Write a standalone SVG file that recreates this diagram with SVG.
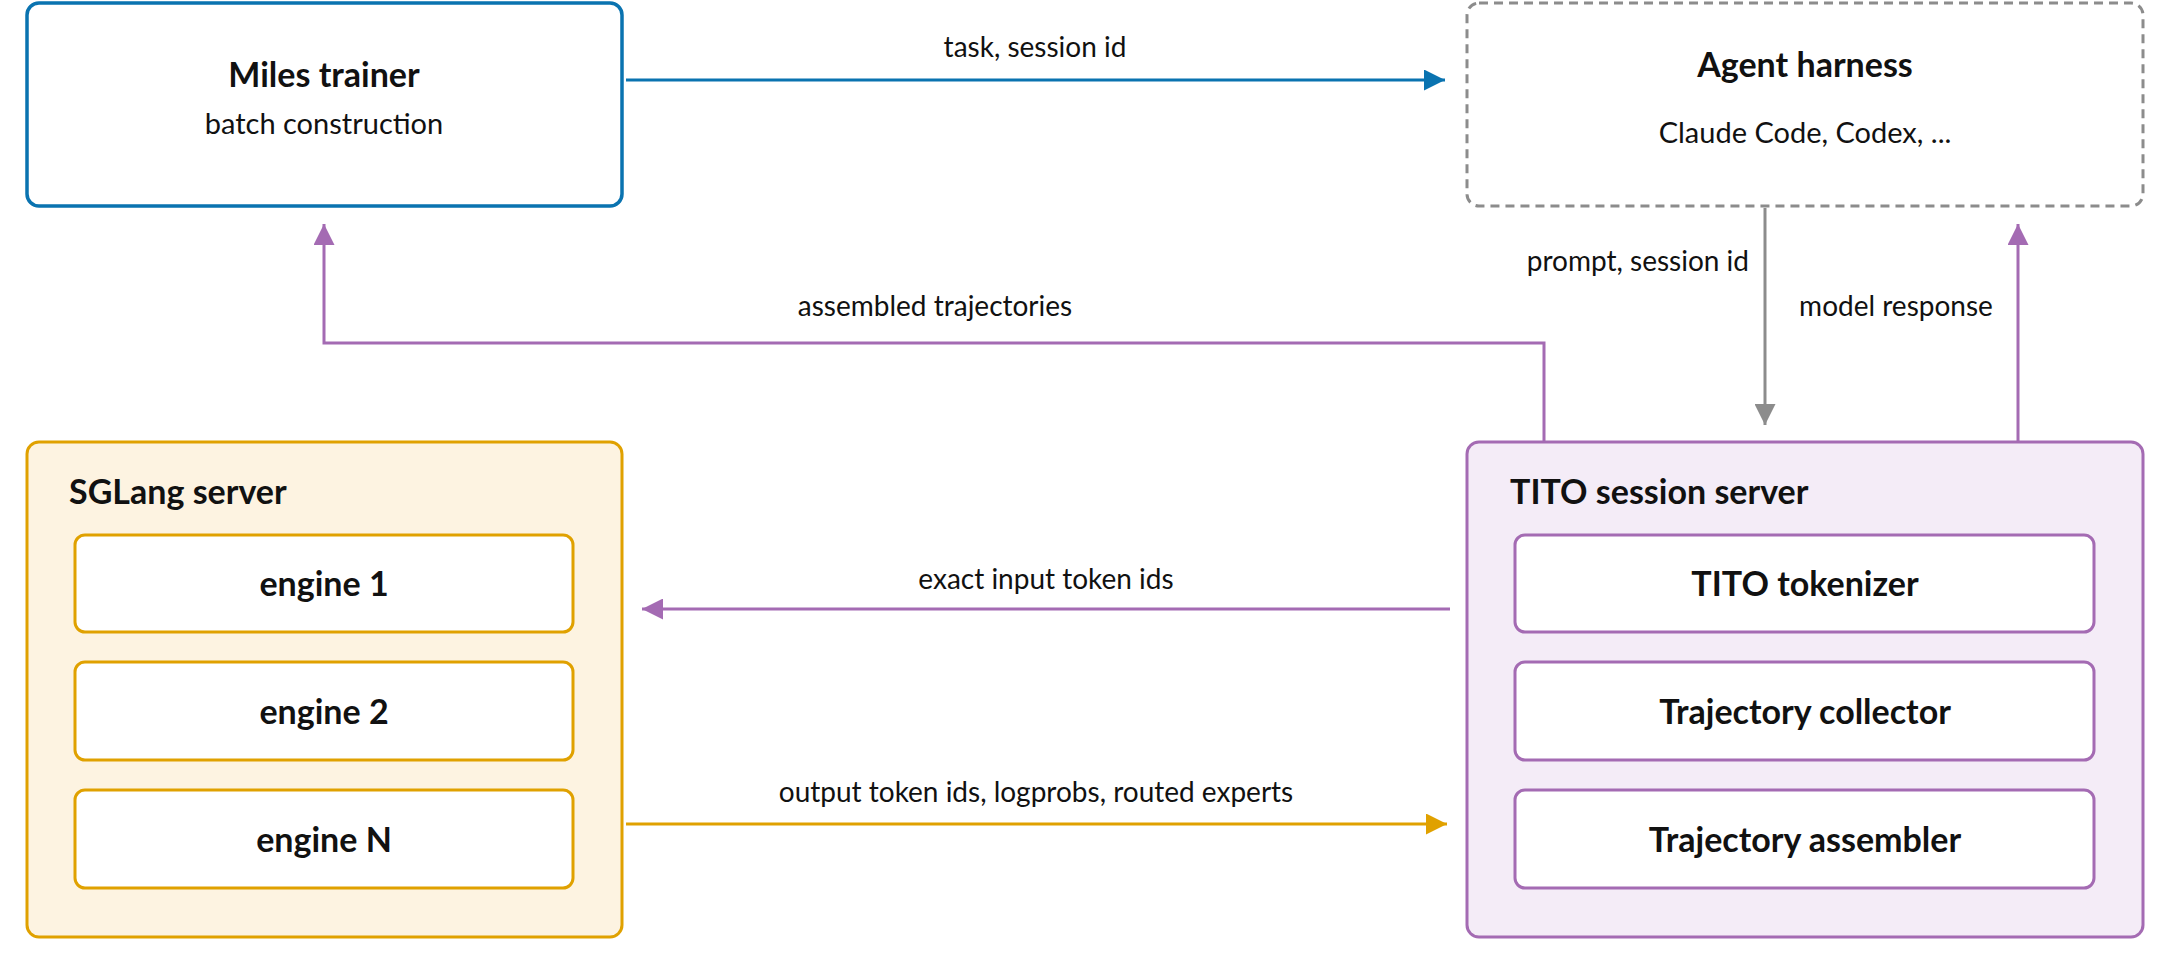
<svg xmlns="http://www.w3.org/2000/svg" width="2172" height="963" viewBox="0 0 2172 963">
<defs>
<style>
text{font-family:Lato,"Noto Sans","Liberation Sans",sans-serif;fill:#111}
.t{font-size:34px;font-weight:bold}
.s{font-size:29px}
.l{font-size:28px}
.eng{fill:#fff;stroke:#e0a100;stroke-width:3}
.tito{fill:#fff;stroke:#a46bb3;stroke-width:3}
.c{fill:none;stroke-width:3}
</style>
<marker id="ab" viewBox="0 0 10 10" refX="10" refY="5" markerWidth="7" markerHeight="7" orient="auto"><path d="M0,0L10,5L0,10z" fill="#0a73b0"/></marker>
<marker id="ap" viewBox="0 0 10 10" refX="10" refY="5" markerWidth="7" markerHeight="7" orient="auto"><path d="M0,0L10,5L0,10z" fill="#a46bb3"/></marker>
<marker id="ag" viewBox="0 0 10 10" refX="10" refY="5" markerWidth="7" markerHeight="7" orient="auto"><path d="M0,0L10,5L0,10z" fill="#8c8c8c"/></marker>
<marker id="ao" viewBox="0 0 10 10" refX="10" refY="5" markerWidth="7" markerHeight="7" orient="auto"><path d="M0,0L10,5L0,10z" fill="#e0a100"/></marker>
</defs>
<g id="connectors">
<path class="c" stroke="#0a73b0" d="M626,80H1445" marker-end="url(#ab)"/>
<text class="l" x="1035" y="57" text-anchor="middle">task, session id</text>
<path class="c" stroke="#a46bb3" d="M1544,443V343H324V224" marker-end="url(#ap)"/>
<text class="l" x="935" y="316" text-anchor="middle">assembled trajectories</text>
<path class="c" stroke="#8c8c8c" d="M1765,208V425" marker-end="url(#ag)"/>
<text class="l" x="1749" y="271" text-anchor="end">prompt, session id</text>
<path class="c" stroke="#a46bb3" d="M2018,443V224" marker-end="url(#ap)"/>
<text class="l" x="1896" y="316" text-anchor="middle">model response</text>
<path class="c" stroke="#a46bb3" d="M1450,609H642" marker-end="url(#ap)"/>
<text class="l" x="1046" y="589" text-anchor="middle">exact input token ids</text>
<path class="c" stroke="#e0a100" d="M626,824H1447" marker-end="url(#ao)"/>
<text class="l" x="1036" y="802" text-anchor="middle">output token ids, logprobs, routed experts</text>
</g>
<g id="miles">
<rect x="27" y="3" width="595" height="203" rx="12" fill="#fff" stroke="#0a73b0" stroke-width="3.5"/>
<text class="t" x="324" y="87" text-anchor="middle">Miles trainer</text>
<text class="s" x="324" y="134" text-anchor="middle">batch construction</text>
</g>
<g id="agent">
<rect x="1467" y="3" width="676" height="203" rx="12" fill="#fff" stroke="#8c8c8c" stroke-width="3" stroke-dasharray="9 6"/>
<text class="t" x="1805" y="77" text-anchor="middle">Agent harness</text>
<text class="s" x="1805" y="143" text-anchor="middle">Claude Code, Codex, ...</text>
</g>
<g id="sglang">
<rect x="27" y="442" width="595" height="495" rx="12" fill="#fdf3e1" stroke="#e0a100" stroke-width="3"/>
<text class="t" x="69" y="504">SGLang server</text>
</g>
<g id="engine1"><rect class="eng" x="75" y="535" width="498" height="97" rx="10"/><text class="t" x="324" y="596" text-anchor="middle">engine 1</text></g>
<g id="engine2"><rect class="eng" x="75" y="662" width="498" height="98" rx="10"/><text class="t" x="324" y="724" text-anchor="middle">engine 2</text></g>
<g id="engineN"><rect class="eng" x="75" y="790" width="498" height="98" rx="10"/><text class="t" x="324" y="852" text-anchor="middle">engine N</text></g>
<g id="tito">
<rect x="1467" y="442" width="676" height="495" rx="12" fill="#f4ecf7" stroke="#a46bb3" stroke-width="3"/>
<text class="t" x="1510" y="504">TITO session server</text>
</g>
<g id="tokenizer"><rect class="tito" x="1515" y="535" width="579" height="97" rx="10"/><text class="t" x="1805" y="596" text-anchor="middle">TITO tokenizer</text></g>
<g id="collector"><rect class="tito" x="1515" y="662" width="579" height="98" rx="10"/><text class="t" x="1805" y="724" text-anchor="middle">Trajectory collector</text></g>
<g id="assembler"><rect class="tito" x="1515" y="790" width="579" height="98" rx="10"/><text class="t" x="1805" y="852" text-anchor="middle">Trajectory assembler</text></g>
</svg>
